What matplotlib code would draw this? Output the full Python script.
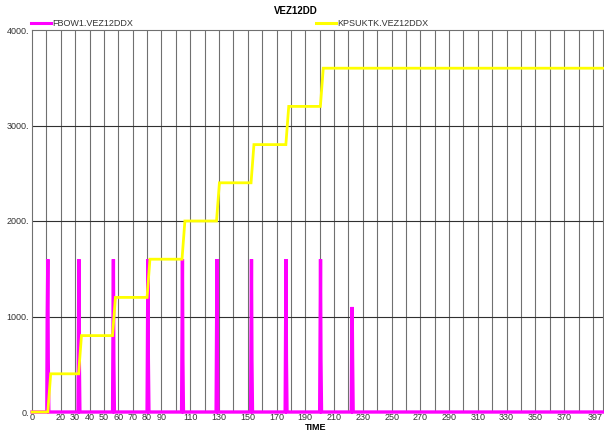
import matplotlib
matplotlib.use("Agg")
import matplotlib.pyplot as plt

# ---- data ----
title = "VEZ12DD"
xlabel = "TIME"
series_names = ["FBOW1.VEZ12DDX", "KPSUKTK.VEZ12DDX"]

fbow_time = [0, 10.3, 10.6, 11.0, 11.3, 11.7,
             32.0, 32.3, 32.6, 32.9, 33.3,
             56.0, 56.3, 56.6, 56.9, 57.3,
             80.0, 80.3, 80.6, 80.9, 81.3,
             104.0, 104.3, 104.6, 104.9, 105.3,
             128.0, 128.3, 128.6, 128.9, 129.3,
             152.0, 152.3, 152.6, 152.9, 153.3,
             176.0, 176.3, 176.6, 176.9, 177.3,
             200.0, 200.3, 200.6, 200.9, 201.3,
             222.0, 222.3, 222.6, 222.9, 223.3,
             397]
fbow_vals = [0, 0, 1000, 1600, 550, 0,
             0, 800, 1600, 550, 0,
             0, 800, 1600, 550, 0,
             0, 800, 1600, 550, 0,
             0, 800, 1600, 550, 0,
             0, 800, 1600, 550, 0,
             0, 800, 1600, 550, 0,
             0, 800, 1600, 550, 0,
             0, 800, 1600, 550, 0,
             0, 750, 1100, 550, 0,
             0]

kps_time = [0, 11, 13, 32.4, 34.4, 56, 58, 80, 82, 104.3, 106.3,
            128.3, 130.3, 152.3, 154.3, 176.5, 178.5, 200.5, 202.5, 397]
kps_vals = [0, 0, 400, 400, 800, 800, 1200, 1200, 1600, 1600, 2000,
            2000, 2400, 2400, 2800, 2800, 3200, 3200, 3600, 3600]

xtick_vals = [0, 20, 30, 40, 50, 60, 70, 80, 90, 110, 130, 150, 170, 190,
              210, 230, 250, 270, 290, 310, 330, 350, 370, 397]
ytick_vals = [0, 1000, 2000, 3000, 4000]
xgrid_vals = list(range(10, 397, 10))

# ---- figure ----
W, H = 604, 432
fig = plt.figure(figsize=(W / 100, H / 100), dpi=100)
fig.patch.set_facecolor("white")
ax = fig.add_axes([32 / W, (H - 412) / H, 571 / W, 382 / H])

for xv in xgrid_vals:
    ax.axvline(xv, color="#707070", lw=0.8, zorder=1)
for yv in ytick_vals[1:-1]:
    ax.axhline(yv, color="#303030", lw=0.8, zorder=1)

ax.plot(fbow_time, fbow_vals, color="#FF00FF", lw=2.4, zorder=3,
        solid_joinstyle="miter", clip_on=False)
ax.plot(kps_time, kps_vals, color="#FFFF00", lw=2.0, zorder=4,
        solid_joinstyle="miter", clip_on=False)

ax.set_xlim(0, 397)
ax.set_ylim(0, 4000)
ax.set_xticks(xtick_vals)
ax.set_xticklabels([str(v) for v in xtick_vals])
ax.set_yticks(ytick_vals)
ax.set_yticklabels([f"{v}." for v in ytick_vals])
ax.tick_params(length=0, labelsize=6.5, colors="#333333")
ax.tick_params(axis="x", pad=0.5)
ax.tick_params(axis="y", pad=2)
for lab in ax.get_xticklabels() + ax.get_yticklabels():
    lab.set_fontfamily("Liberation Sans")
ax.get_xticklabels()[-1].set_horizontalalignment("right")
for sp in ax.spines.values():
    sp.set_color("#707070")
    sp.set_linewidth(0.8)

# title / labels
fig.text(296 / W, 1 - 11 / H, title, ha="center", va="center",
         fontsize=7, fontweight="bold", family="Liberation Sans")
fig.text(316 / W, 0, xlabel, ha="center", va="bottom",
         fontsize=6.5, fontweight="bold", family="Liberation Sans")

# legend
leg_y = 1 - 23 / H
colors = ["#FF00FF", "#FFFF00"]
starts = [31, 316]
for name, c, x0 in zip(series_names, colors, starts):
    fig.add_artist(plt.Line2D([x0 / W, (x0 + 20) / W], [leg_y, leg_y],
                              color=c, lw=2.2, transform=fig.transFigure))
    fig.text((x0 + 21) / W, leg_y, name, ha="left", va="center",
             fontsize=6.5, color="#333333", family="Liberation Sans")

fig.savefig("out.png", dpi=100)
